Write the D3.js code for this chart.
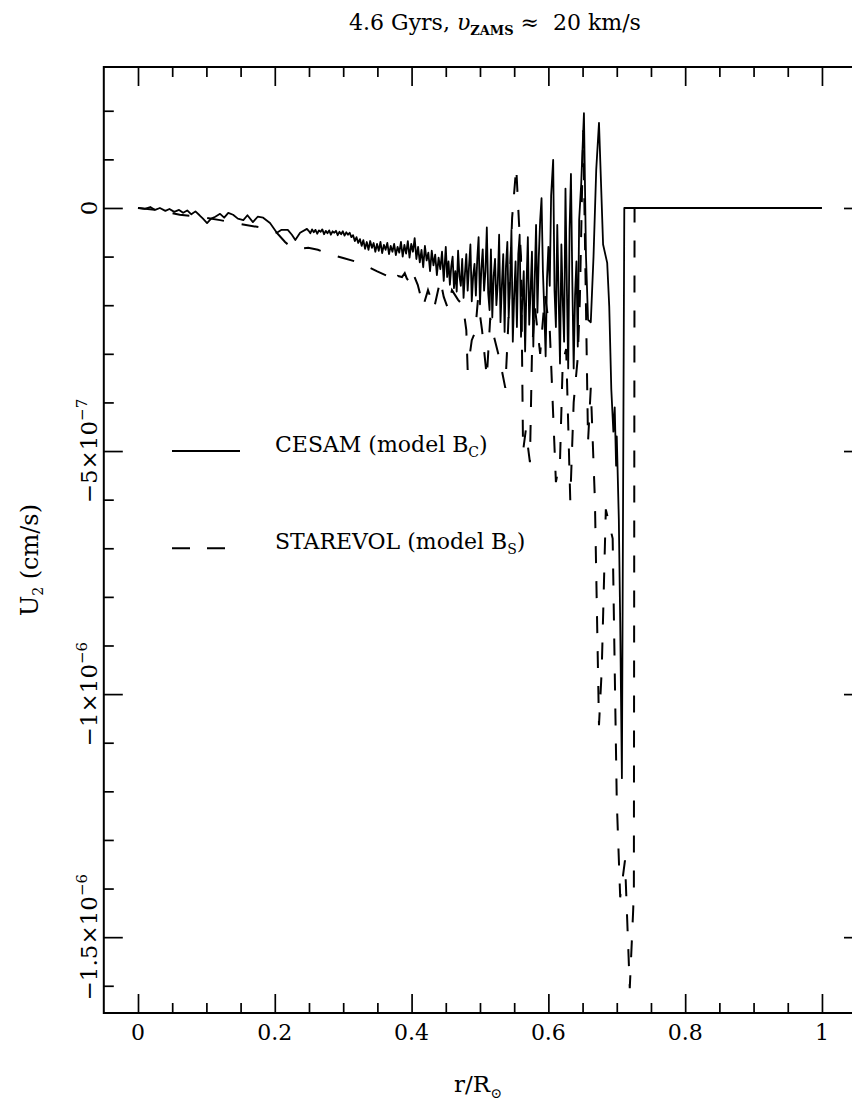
<!DOCTYPE html>
<html><head><meta charset="utf-8">
<script src="https://cdn.jsdelivr.net/npm/d3@7/dist/d3.min.js"></script>
<style>body{margin:0;background:#fff}svg{display:block}</style>
</head><body>
<svg id="chart" width="852" height="1111"></svg>
<script>
// ---- data (r/R_sun, U2 in units of 1e-7 cm/s) ----
const cesamPoints = [
[0.000,0.00],[0.010,-0.02],[0.018,0.02],[0.025,-0.04],[0.032,0.00],[0.040,-0.06],[0.046,-0.02],[0.053,-0.08],
[0.060,-0.04],[0.066,-0.10],[0.072,-0.05],[0.078,-0.13],[0.084,-0.07],[0.090,-0.15],[0.095,-0.22],[0.101,-0.31],
[0.107,-0.22],[0.113,-0.18],[0.120,-0.12],[0.126,-0.20],[0.132,-0.10],[0.139,-0.14],[0.146,-0.22],[0.154,-0.25],
[0.160,-0.15],[0.168,-0.29],[0.175,-0.18],[0.183,-0.20],[0.193,-0.31],[0.203,-0.51],[0.210,-0.45],[0.219,-0.45],
[0.225,-0.55],[0.230,-0.66],[0.237,-0.51],[0.247,-0.43],
[0.2495,-0.47],[0.252,-0.52],[0.2545,-0.44],[0.257,-0.50],[0.2595,-0.45],[0.262,-0.53],[0.2645,-0.46],[0.267,-0.49],
[0.2695,-0.44],[0.272,-0.54],[0.2745,-0.47],[0.277,-0.52],[0.2795,-0.46],[0.282,-0.55],[0.2845,-0.48],[0.287,-0.51],
[0.2895,-0.47],[0.292,-0.56],[0.2945,-0.49],[0.297,-0.54],[0.2995,-0.48],[0.302,-0.57],[0.3045,-0.50],[0.307,-0.55],
[0.3095,-0.51],[0.312,-0.60],[0.3145,-0.56],[0.317,-0.68],[0.3195,-0.60],[0.322,-0.72],[0.3245,-0.64],[0.327,-0.78],
[0.3295,-0.66],[0.332,-0.84],[0.3345,-0.70],[0.337,-0.86],[0.3395,-0.68],[0.342,-0.82],[0.3445,-0.72],[0.347,-0.90],
[0.3495,-0.74],[0.352,-0.88],[0.3545,-0.70],[0.357,-0.93],[0.3595,-0.76],[0.362,-0.86],[0.3645,-0.72],[0.367,-0.95],
[0.3695,-0.78],[0.372,-0.90],[0.3745,-0.74],[0.377,-0.97],[0.3795,-0.80],[0.382,-0.92],[0.3845,-0.70],[0.387,-1.00],
[0.3895,-0.76],[0.392,-0.94],[0.3945,-0.68],[0.397,-1.02],[0.3995,-0.74],[0.402,-0.90],[0.4045,-0.62],[0.407,-1.05],
[0.4095,-0.80],[0.412,-1.12],[0.4145,-0.86],[0.417,-1.22],[0.4195,-0.78],[0.422,-1.08],[0.4245,-0.92],[0.427,-1.30],
[0.4295,-0.88],[0.432,-1.18],[0.4345,-0.96],[0.437,-1.38],[0.4395,-1.02],[0.442,-1.26],[0.4445,-0.90],[0.447,-1.50],
[0.450,-0.80],[0.452,-1.42],[0.454,-1.10],[0.456,-1.58],[0.458,-1.20],[0.460,-1.00],[0.462,-1.65],[0.464,-1.30],
[0.466,-1.72],[0.468,-0.88],[0.470,-1.40],[0.472,-1.60],[0.474,-1.05],[0.476,-1.85],[0.478,-1.35],[0.480,-0.95],
[0.482,-1.70],[0.484,-1.20],[0.486,-0.75],[0.488,-1.92],[0.490,-1.40],[0.492,-1.15],[0.494,-1.80],[0.496,-1.05],
[0.498,-0.60],[0.500,-1.98],[0.502,-1.25],[0.504,-0.85],[0.506,-1.70],[0.508,-1.30],[0.510,-0.40],[0.512,-1.75],
[0.514,-2.10],[0.516,-0.85],[0.518,-2.25],[0.520,-1.40],[0.522,-1.05],[0.524,-2.00],[0.526,-1.55],[0.528,-0.55],
[0.530,-2.35],[0.532,-1.60],[0.534,-0.95],[0.536,-2.55],[0.538,-1.20],[0.540,-0.70],[0.542,-2.25],[0.544,-1.50],
[0.546,-0.45],[0.548,-2.75],[0.550,-1.80],[0.552,-1.10],[0.554,-2.45],[0.556,-0.95],[0.558,-0.55],[0.560,-2.65],
[0.562,-1.90],[0.564,-1.30],[0.566,-2.95],[0.568,-1.60],[0.570,-0.60],[0.572,-2.40],[0.574,-1.70],[0.576,-0.90],
[0.578,-2.85],[0.580,-1.50],[0.582,-0.35],[0.584,-2.15],[0.586,-1.00],[0.588,-0.25],[0.590,0.20],[0.592,-1.30],
[0.594,-2.10],[0.596,-3.05],[0.598,-1.45],[0.600,-0.80],[0.602,-1.60],[0.604,0.25],[0.607,0.99],[0.609,-1.70],
[0.611,-2.45],[0.613,-0.35],[0.615,-1.80],[0.617,-3.20],[0.619,-0.75],[0.621,-1.90],[0.623,-2.75],[0.625,0.40],
[0.627,-1.60],[0.629,-3.30],[0.631,-0.45],[0.633,0.70],[0.635,-1.50],[0.637,-3.30],[0.639,-1.80],[0.641,-1.10],
[0.643,-2.85],[0.645,-0.25],[0.648,0.50],[0.652,1.95],[0.655,-1.00],[0.658,-2.30],[0.662,-2.35],[0.666,-1.00],
[0.670,0.80],[0.674,1.75],[0.680,-0.75],[0.686,-1.13],[0.689,-2.03],[0.692,-3.73],[0.695,-4.60],[0.697,-4.10],
[0.699,-5.30],[0.700,-4.70],[0.703,-6.40],[0.705,-8.50],[0.7075,-11.73],[0.711,0.00],[1.000,0.00]
];
const starevolPoints = [
[0.000,0.00],[0.032,-0.05],[0.061,-0.14],[0.091,-0.18],[0.120,-0.25],[0.150,-0.33],[0.183,-0.41],[0.203,-0.51],
[0.215,-0.70],[0.225,-0.82],[0.237,-0.84],[0.249,-0.82],[0.263,-0.86],[0.276,-0.93],[0.300,-1.03],[0.325,-1.13],
[0.349,-1.30],[0.365,-1.40],[0.368,-1.48],[0.373,-1.52],[0.377,-1.50],[0.380,-1.40],[0.386,-1.42],[0.390,-1.34],
[0.393,-1.45],[0.398,-1.54],[0.402,-1.34],[0.409,-1.58],[0.417,-2.02],[0.424,-1.69],[0.433,-2.06],[0.442,-1.48],
[0.447,-1.83],[0.453,-2.06],[0.459,-1.69],[0.468,-1.89],[0.475,-2.00],[0.480,-2.51],[0.482,-3.33],[0.488,-2.72],
[0.493,-2.55],[0.497,-1.89],[0.503,-2.51],[0.510,-3.48],[0.515,-2.26],[0.518,-2.51],[0.529,-3.13],[0.537,-3.70],
[0.541,-2.51],[0.547,-0.20],[0.553,0.84],[0.557,-0.30],[0.560,-1.00],[0.563,-5.00],[0.567,-4.57],[0.573,-5.23],
[0.576,-3.00],[0.580,-2.00],[0.588,-3.00],[0.595,-1.80],[0.602,-2.50],[0.611,-5.64],[0.617,-5.20],[0.621,-3.17],
[0.626,-2.90],[0.632,-6.01],[0.637,-4.00],[0.643,-3.07],[0.646,-1.90],[0.651,1.60],[0.658,-4.80],[0.662,-3.70],
[0.668,-6.00],[0.674,-10.64],[0.678,-9.50],[0.684,-6.20],[0.694,-6.80],[0.700,-12.20],[0.705,-14.18],[0.712,-13.42],
[0.719,-16.05],[0.724,-14.44],[0.725,-14.00],[0.726,0.00],[1.000,0.00]
];
const xMajorTicks = [0, 0.2, 0.4, 0.6, 0.8, 1];
const xTickLabels = ["0", "0.2", "0.4", "0.6", "0.8", "1"];
const xMinorTicks = [0.05,0.1,0.15,0.25,0.3,0.35,0.45,0.5,0.55,0.65,0.7,0.75,0.85,0.9,0.95,1.05];
const yMajorTicks = [0, -5, -10, -15];
const yTickMantissa = ["0", "\u22125", "\u22121", "\u22121.5"];
const yTickExponent = ["", "\u22127", "\u22126", "\u22126"];
const yMinorTicks = [2,1,-1,-2,-3,-4,-6,-7,-8,-9,-11,-12,-13,-14,-16];
const legendNames = ["CESAM (model B", "STAREVOL (model B"];
const legendSubs = ["C", "S"];
const legendLevels = [-5, -7];

// ---- layout ----
const svg = d3.select("#chart");
const FONT = "DejaVu Serif";
const x = d3.scaleLinear().domain([-0.05, 1.06]).range([103.8, 863]);
const y = d3.scaleLinear().domain([-16.56, 2.9]).range([1013, 67]);
const X0 = x.range()[0], X1 = x.range()[1], Y0 = y.range()[0], Y1 = y.range()[1];
const major = 19, minor = 10;

function styleAxis(g){
  g.select(".domain").remove();
  g.selectAll(".tick line").attr("stroke","#000").attr("stroke-width",1.7);
  g.selectAll(".tick text").remove();
}
function addAxis(axisFn, scale, vals, size, tx, ty){
  svg.append("g").attr("transform",`translate(${tx},${ty})`)
    .call(axisFn(scale).tickValues(vals).tickSizeInner(-size).tickSizeOuter(0)).call(styleAxis);
}
addAxis(d3.axisBottom, x, xMajorTicks, major, 0, Y0);
addAxis(d3.axisBottom, x, xMinorTicks, minor, 0, Y0);
addAxis(d3.axisTop, x, xMajorTicks, major, 0, Y1);
addAxis(d3.axisTop, x, xMinorTicks, minor, 0, Y1);
addAxis(d3.axisLeft, y, yMajorTicks, major, X0, 0);
addAxis(d3.axisLeft, y, yMinorTicks, minor, X0, 0);
addAxis(d3.axisRight, y, yMajorTicks, major, X1, 0);
addAxis(d3.axisRight, y, yMinorTicks, minor, X1, 0);

// frame
svg.append("rect").attr("x",X0).attr("y",Y1).attr("width",X1-X0).attr("height",Y0-Y1)
  .attr("fill","none").attr("stroke","#000").attr("stroke-width",2);

// x tick labels
svg.append("g").selectAll("text").data(xMajorTicks).join("text")
  .attr("x",d=>x(d)).attr("y",Y0+27).attr("text-anchor","middle")
  .attr("font-family",FONT).attr("font-size",22).text((d,i)=>xTickLabels[i]);

// y tick labels (rotated)
const yl = svg.append("g").selectAll("text").data(yMajorTicks).join("text")
  .attr("transform",d=>`translate(97,${y(d)}) rotate(-90)`).attr("text-anchor","middle")
  .attr("font-family",FONT).attr("font-size",23);
yl.each(function(d,i){
  const t = d3.select(this);
  t.append("tspan").text(yTickMantissa[i]);
  if (yTickExponent[i]) {
    t.append("tspan").text("\u00d710");
    t.append("tspan").attr("font-size",15).attr("dy",-10).text(yTickExponent[i]);
  }
});

// axis titles
const xt = svg.append("text").attr("x",478).attr("y",1092).attr("text-anchor","middle")
  .attr("font-family",FONT).attr("font-size",23);
xt.append("tspan").text("r/R");
xt.append("tspan").attr("font-size",14).attr("dy",6).text("\u2299");

const ytl = svg.append("text").attr("transform","translate(38,560) rotate(-90)").attr("text-anchor","middle")
  .attr("font-family",FONT).attr("font-size",24);
ytl.append("tspan").text("U");
ytl.append("tspan").attr("font-size",14).attr("dy",5).text("2");
ytl.append("tspan").attr("dy",-5).text(" (cm/s)");

// title
const tt = svg.append("text").attr("x",495).attr("y",30).attr("text-anchor","middle")
  .attr("font-family",FONT).attr("font-size",22);
tt.append("tspan").text("4.6 Gyrs, ");
tt.append("tspan").attr("font-style","italic").text("\u03c5");
tt.append("tspan").attr("font-size",13).attr("font-weight","bold").attr("dy",5).text("ZAMS");
tt.append("tspan").attr("dy",-5).text(" \u2248 \u00a020 km/s");

// curves
const line = d3.line().x(d=>x(d[0])).y(d=>y(d[1]));
svg.append("path").datum(starevolPoints).attr("d",line).attr("fill","none")
  .attr("stroke","#000").attr("stroke-width",2).attr("stroke-dasharray","17,18");
svg.append("path").datum(cesamPoints).attr("d",line).attr("fill","none")
  .attr("stroke","#000").attr("stroke-width",1.8).attr("stroke-linejoin","round");

// legend
const lg = svg.append("g");
lg.append("line").attr("x1",172).attr("x2",240).attr("y1",y(legendLevels[0])).attr("y2",y(legendLevels[0]))
  .attr("stroke","#000").attr("stroke-width",2);
lg.append("line").attr("x1",172).attr("x2",225).attr("y1",y(legendLevels[1])).attr("y2",y(legendLevels[1]))
  .attr("stroke","#000").attr("stroke-width",2).attr("stroke-dasharray","18,17");
legendNames.forEach((n,i)=>{
  const t = lg.append("text").attr("x",275).attr("y",y(legendLevels[i])+1).attr("font-family",FONT).attr("font-size",22);
  t.append("tspan").text(n);
  t.append("tspan").attr("font-size",14).attr("dy",5).text(legendSubs[i]);
  t.append("tspan").attr("dy",-5).text(")");
});
</script>
</body></html>
